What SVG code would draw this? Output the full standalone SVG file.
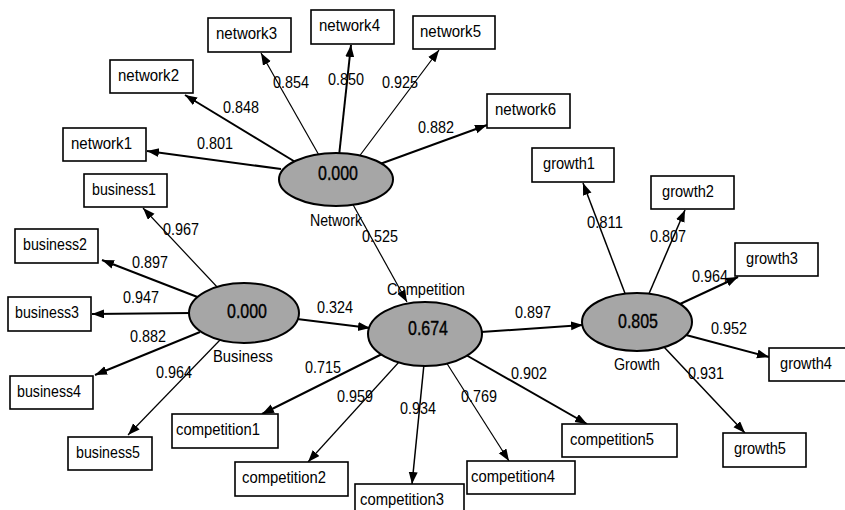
<svg xmlns="http://www.w3.org/2000/svg" width="845" height="510" viewBox="0 0 845 510">
<style>
.bg{fill:#ffffff}
.box{fill:#ffffff;stroke:#000;stroke-width:1.6}
.lat{fill:#a6a6a6;stroke:#000;stroke-width:2}
.t{font-family:"Liberation Sans",Arial,sans-serif;font-size:17px;fill:#000}
.n{font-family:"Liberation Sans",Arial,sans-serif;font-size:16.5px;fill:#000}
.v{font-family:"Liberation Sans",Arial,sans-serif;font-size:21px;fill:#000;text-anchor:middle;stroke:#000;stroke-width:0.4}
.k{stroke:#000;stroke-width:2;fill:none;marker-end:url(#ah)}
.s{stroke:#000;stroke-width:1.2;fill:none;marker-end:url(#ah)}
.m{stroke:#000;stroke-width:1.5;fill:none;marker-end:url(#ah)}
</style>
<defs>
<marker id="ah" markerUnits="userSpaceOnUse" markerWidth="13" markerHeight="10" refX="12" refY="4.5" orient="auto">
<path d="M0,0 L12,4.5 L0,9 z" fill="#000"/>
</marker>
</defs>
<rect class="bg" x="0" y="0" width="845" height="510"/>
<g id="connectors">
<line class="k" x1="281" y1="169" x2="147" y2="151"/>
<line class="k" x1="297" y1="163" x2="185" y2="95"/>
<line class="s" x1="320" y1="157" x2="261" y2="53"/>
<line class="k" x1="339" y1="156" x2="351" y2="45"/>
<line class="s" x1="358" y1="158" x2="439" y2="50"/>
<line class="k" x1="380" y1="164" x2="487" y2="125"/>
<line class="s" x1="351" y1="201" x2="407" y2="302"/>
<line class="s" x1="219" y1="289" x2="143" y2="208"/>
<line class="k" x1="200" y1="298" x2="102" y2="260"/>
<line class="k" x1="192" y1="313" x2="92" y2="314"/>
<line class="k" x1="200" y1="332" x2="95" y2="375"/>
<line class="s" x1="220" y1="340" x2="128" y2="435"/>
<line class="k" x1="297" y1="319" x2="370" y2="328"/>
<line class="k" x1="382" y1="354" x2="262" y2="414"/>
<line class="s" x1="399" y1="362" x2="308" y2="462"/>
<line class="m" x1="424" y1="364" x2="412" y2="484"/>
<line class="s" x1="446" y1="362" x2="509" y2="461"/>
<line class="k" x1="466" y1="355" x2="587" y2="424"/>
<line class="k" x1="481" y1="332" x2="583" y2="325"/>
<line class="m" x1="626" y1="296" x2="583" y2="183"/>
<line class="m" x1="648" y1="296" x2="685" y2="210"/>
<line class="k" x1="680" y1="304" x2="738" y2="277"/>
<line class="k" x1="686" y1="335" x2="769" y2="357"/>
<line class="m" x1="664" y1="347" x2="745" y2="433"/>
<text class="n" x="197" y="149" textLength="36" lengthAdjust="spacingAndGlyphs">0.801</text>
<text class="n" x="223" y="113" textLength="36" lengthAdjust="spacingAndGlyphs">0.848</text>
<text class="n" x="273" y="88" textLength="36" lengthAdjust="spacingAndGlyphs">0.854</text>
<text class="n" x="328" y="85" textLength="36" lengthAdjust="spacingAndGlyphs">0.850</text>
<text class="n" x="382" y="88" textLength="36" lengthAdjust="spacingAndGlyphs">0.925</text>
<text class="n" x="418" y="133" textLength="36" lengthAdjust="spacingAndGlyphs">0.882</text>
<text class="n" x="362" y="242" textLength="36" lengthAdjust="spacingAndGlyphs">0.525</text>
<text class="n" x="163" y="235" textLength="36" lengthAdjust="spacingAndGlyphs">0.967</text>
<text class="n" x="132" y="268" textLength="36" lengthAdjust="spacingAndGlyphs">0.897</text>
<text class="n" x="123" y="303" textLength="36" lengthAdjust="spacingAndGlyphs">0.947</text>
<text class="n" x="130" y="342" textLength="36" lengthAdjust="spacingAndGlyphs">0.882</text>
<text class="n" x="156" y="378" textLength="36" lengthAdjust="spacingAndGlyphs">0.964</text>
<text class="n" x="317" y="313" textLength="36" lengthAdjust="spacingAndGlyphs">0.324</text>
<text class="n" x="305" y="373" textLength="36" lengthAdjust="spacingAndGlyphs">0.715</text>
<text class="n" x="337" y="402" textLength="36" lengthAdjust="spacingAndGlyphs">0.959</text>
<text class="n" x="400" y="414" textLength="36" lengthAdjust="spacingAndGlyphs">0.934</text>
<text class="n" x="461" y="402" textLength="36" lengthAdjust="spacingAndGlyphs">0.769</text>
<text class="n" x="511" y="379" textLength="36" lengthAdjust="spacingAndGlyphs">0.902</text>
<text class="n" x="515" y="318" textLength="36" lengthAdjust="spacingAndGlyphs">0.897</text>
<text class="n" x="587" y="228" textLength="36" lengthAdjust="spacingAndGlyphs">0.811</text>
<text class="n" x="650" y="242" textLength="36" lengthAdjust="spacingAndGlyphs">0.807</text>
<text class="n" x="692" y="282" textLength="36" lengthAdjust="spacingAndGlyphs">0.964</text>
<text class="n" x="711" y="334" textLength="36" lengthAdjust="spacingAndGlyphs">0.952</text>
<text class="n" x="688" y="379" textLength="36" lengthAdjust="spacingAndGlyphs">0.931</text>
</g>
<g id="Network">
<ellipse class="lat" cx="336" cy="179.5" rx="57" ry="26.5"/>
<text class="v" x="338" y="180" textLength="40" lengthAdjust="spacingAndGlyphs">0.000</text>
<text class="t" x="310" y="226" textLength="52" lengthAdjust="spacingAndGlyphs">Network</text>
</g>
<g id="Business">
<ellipse class="lat" cx="244" cy="313" rx="55" ry="30"/>
<text class="v" x="247" y="318" textLength="40" lengthAdjust="spacingAndGlyphs">0.000</text>
<text class="t" x="213" y="362" textLength="60" lengthAdjust="spacingAndGlyphs">Business</text>
</g>
<g id="Competition">
<ellipse class="lat" cx="425" cy="334" rx="57" ry="32"/>
<text class="v" x="428" y="335" textLength="40" lengthAdjust="spacingAndGlyphs">0.674</text>
<text class="t" x="387" y="295" textLength="78" lengthAdjust="spacingAndGlyphs">Competition</text>
</g>
<g id="Growth">
<ellipse class="lat" cx="637" cy="322" rx="55" ry="29"/>
<text class="v" x="638" y="328" textLength="40" lengthAdjust="spacingAndGlyphs">0.805</text>
<text class="t" x="614" y="370" textLength="46" lengthAdjust="spacingAndGlyphs">Growth</text>
</g>
<g id="network1"><rect class="box" x="63" y="128" width="83" height="33"/><text class="t" x="71" y="149" textLength="61" lengthAdjust="spacingAndGlyphs">network1</text></g>
<g id="network2"><rect class="box" x="110" y="60" width="83" height="33"/><text class="t" x="118" y="81" textLength="61" lengthAdjust="spacingAndGlyphs">network2</text></g>
<g id="network3"><rect class="box" x="208" y="18" width="83" height="34"/><text class="t" x="216" y="39" textLength="61" lengthAdjust="spacingAndGlyphs">network3</text></g>
<g id="network4"><rect class="box" x="311" y="10" width="83" height="34"/><text class="t" x="319" y="31" textLength="61" lengthAdjust="spacingAndGlyphs">network4</text></g>
<g id="network5"><rect class="box" x="413" y="16" width="82" height="33"/><text class="t" x="420" y="37" textLength="61" lengthAdjust="spacingAndGlyphs">network5</text></g>
<g id="network6"><rect class="box" x="487" y="94" width="83" height="34"/><text class="t" x="495" y="115" textLength="61" lengthAdjust="spacingAndGlyphs">network6</text></g>
<g id="business1"><rect class="box" x="84" y="174" width="83" height="33"/><text class="t" x="92" y="195" textLength="64" lengthAdjust="spacingAndGlyphs">business1</text></g>
<g id="business2"><rect class="box" x="15" y="229" width="83" height="34"/><text class="t" x="23" y="250" textLength="64" lengthAdjust="spacingAndGlyphs">business2</text></g>
<g id="business3"><rect class="box" x="8" y="297" width="83" height="34"/><text class="t" x="15" y="318" textLength="64" lengthAdjust="spacingAndGlyphs">business3</text></g>
<g id="business4"><rect class="box" x="10" y="376" width="83" height="33"/><text class="t" x="17" y="397" textLength="64" lengthAdjust="spacingAndGlyphs">business4</text></g>
<g id="business5"><rect class="box" x="68" y="437" width="84" height="33"/><text class="t" x="76" y="458" textLength="64" lengthAdjust="spacingAndGlyphs">business5</text></g>
<g id="competition1"><rect class="box" x="172" y="414" width="106" height="34"/><text class="t" x="176" y="435" textLength="84" lengthAdjust="spacingAndGlyphs">competition1</text></g>
<g id="competition2"><rect class="box" x="235" y="462" width="113" height="34"/><text class="t" x="242" y="483" textLength="84" lengthAdjust="spacingAndGlyphs">competition2</text></g>
<g id="competition3"><rect class="box" x="355" y="484" width="109" height="34"/><text class="t" x="360" y="505" textLength="84" lengthAdjust="spacingAndGlyphs">competition3</text></g>
<g id="competition4"><rect class="box" x="467" y="461" width="108" height="33"/><text class="t" x="471" y="482" textLength="84" lengthAdjust="spacingAndGlyphs">competition4</text></g>
<g id="competition5"><rect class="box" x="562" y="424" width="115" height="33"/><text class="t" x="570" y="445" textLength="84" lengthAdjust="spacingAndGlyphs">competition5</text></g>
<g id="growth1"><rect class="box" x="532" y="148" width="82" height="34"/><text class="t" x="543" y="169" textLength="52" lengthAdjust="spacingAndGlyphs">growth1</text></g>
<g id="growth2"><rect class="box" x="651" y="176" width="83" height="33"/><text class="t" x="662" y="197" textLength="52" lengthAdjust="spacingAndGlyphs">growth2</text></g>
<g id="growth3"><rect class="box" x="735" y="243" width="83" height="33"/><text class="t" x="746" y="264" textLength="52" lengthAdjust="spacingAndGlyphs">growth3</text></g>
<g id="growth4"><rect class="box" x="769" y="348" width="83" height="33"/><text class="t" x="780" y="369" textLength="52" lengthAdjust="spacingAndGlyphs">growth4</text></g>
<g id="growth5"><rect class="box" x="723" y="433" width="83" height="34"/><text class="t" x="734" y="454" textLength="52" lengthAdjust="spacingAndGlyphs">growth5</text></g>
</svg>
